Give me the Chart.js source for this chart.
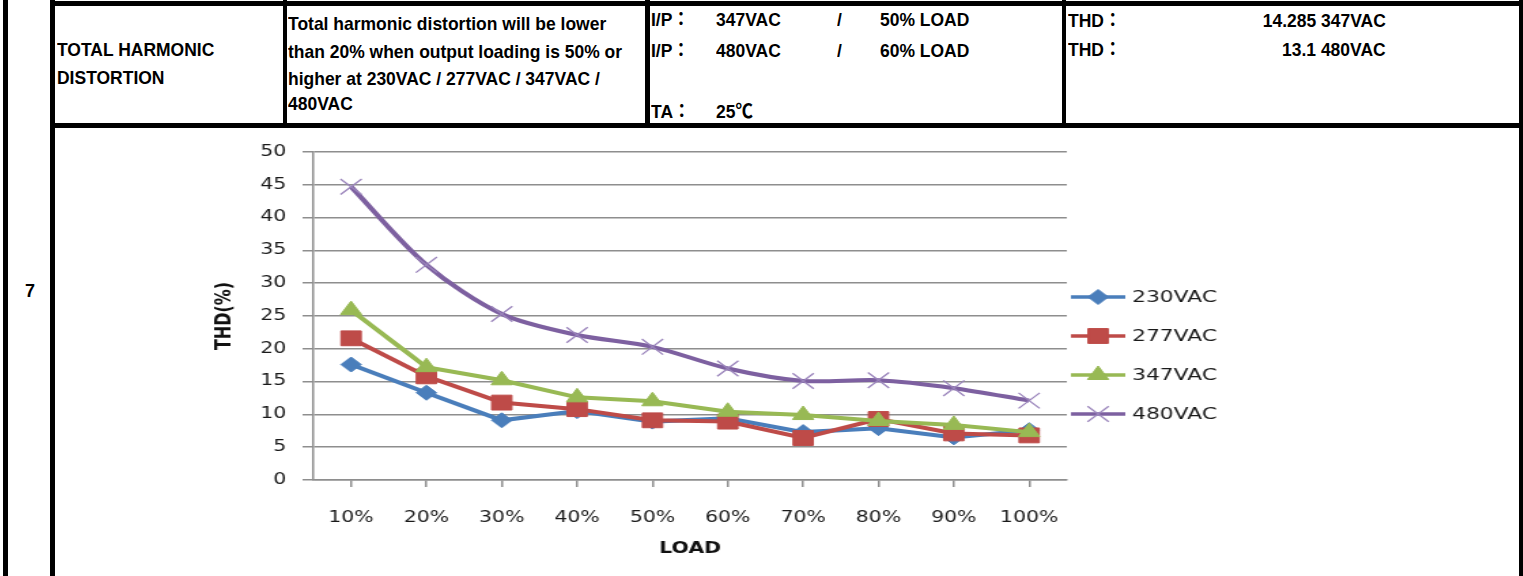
<!DOCTYPE html>
<html>
<head>
<meta charset="utf-8">
<script src="https://cdn.jsdelivr.net/npm/chart.js@4.4.1/dist/chart.umd.min.js"></script>
<style>
  html, body { margin:0; padding:0; background:#fff; }
  body { width:1523px; height:576px; position:relative; overflow:hidden; }
  .b { position:absolute; background:#000; z-index:5; }
  .t { position:absolute; font-family:'Liberation Sans', Arial, 'Noto Sans CJK JP', sans-serif; font-weight:bold;
       font-size:19px; line-height:22px; white-space:nowrap; color:#000; transform:scaleX(0.92); transform-origin:0 50%; z-index:6; }
  .r { transform-origin:100% 50%; text-align:right; }
  #wrap { position:absolute; left:55px; top:128px; width:1076px; height:448px; transform:scaleX(1.36); transform-origin:0 0; }
</style>
</head>
<body>
<!-- table borders -->
<div class="b" style="left:3px;top:0;width:5px;height:576px"></div>
<div class="b" style="left:50px;top:0;width:5px;height:576px"></div>
<div class="b" style="left:50px;top:1px;width:1473px;height:5px"></div>
<div class="b" style="left:50px;top:123px;width:1473px;height:5px"></div>
<div class="b" style="left:283px;top:0;width:4px;height:128px"></div>
<div class="b" style="left:645px;top:0;width:5px;height:128px"></div>
<div class="b" style="left:1062px;top:0;width:4px;height:128px"></div>
<div class="b" style="left:1519px;top:0;width:4px;height:576px"></div>

<div class="t" style="left:25px;top:280px;font-size:18px;transform:none">7</div>

<div class="t" style="left:57px;top:39px">TOTAL HARMONIC</div>
<div class="t" style="left:57px;top:67px">DISTORTION</div>

<div class="t" style="left:288px;top:13px">Total harmonic distortion will be lower</div>
<div class="t" style="left:288px;top:41px">than 20% when output loading is 50% or</div>
<div class="t" style="left:288px;top:68px">higher at 230VAC / 277VAC / 347VAC /</div>
<div class="t" style="left:288px;top:93px">480VAC</div>

<div class="t" style="left:651px;top:9px">I/P：</div>
<div class="t" style="left:716px;top:9px">347VAC</div>
<div class="t" style="left:837px;top:9px">/</div>
<div class="t" style="left:880px;top:9px">50% LOAD</div>
<div class="t" style="left:651px;top:40px">I/P：</div>
<div class="t" style="left:716px;top:40px">480VAC</div>
<div class="t" style="left:837px;top:40px">/</div>
<div class="t" style="left:880px;top:40px">60% LOAD</div>
<div class="t" style="left:651px;top:101px">TA：</div>
<div class="t" style="left:716px;top:101px">25℃</div>

<div class="t" style="left:1068px;top:10px">THD：</div>
<div class="t r" style="right:137px;top:10px">14.285 347VAC</div>
<div class="t" style="left:1068px;top:39px">THD：</div>
<div class="t r" style="right:137px;top:39px">13.1 480VAC</div>

<div id="wrap"><canvas id="c" width="1076" height="448"></canvas></div>

<script>
const categories = ['10%','20%','30%','40%','50%','60%','70%','80%','90%','100%'];
const seriesNames = ['230VAC','277VAC','347VAC','480VAC'];
const thd230 = [17.6, 13.3, 9.1, 10.5, 8.9, 9.4, 7.3, 7.9, 6.5, 7.6];
const thd277 = [21.6, 15.8, 11.8, 10.8, 9.1, 8.9, 6.4, 9.3, 7.1, 6.8];
const thd347 = [25.9, 17.2, 15.2, 12.6, 12.0, 10.4, 9.9, 9.0, 8.4, 7.3];
const thd480 = [44.7, 32.8, 25.3, 22.1, 20.3, 17.0, 15.1, 15.2, 14.0, 12.1];
const yMin = 0, yMax = 50, yStep = 5;

const gridCol = '#8e8e8e';
const tickFont = {family:'DejaVu Sans', size:15};

function ds(label, data, color, style, radius, order, extra) {
  return Object.assign({
    label, data, borderColor: color, backgroundColor: color,
    pointBackgroundColor: color, pointBorderColor: color,
    pointStyle: style, pointRadius: radius, pointHoverRadius: radius,
    borderWidth: 4, pointBorderWidth: 1, tension: 0, order
  }, extra || {});
}

const datasets = [
  ds(seriesNames[0], thd230, '#4a7ebb', 'rectRot', 7.5, 3),
  ds(seriesNames[1], thd277, '#be4b48', 'rect', 10.5, 2),
  ds(seriesNames[2], thd347, '#98b954', 'triangle', 9, 1),
  ds(seriesNames[3], thd480, '#7d60a0', 'crossRot', 11, 0, {pointBorderColor:'#9a84bb', pointBorderWidth:1.3, tension:0.3})
];

const legendPlugin = {
  id: 'excelLegend',
  afterDraw(chart) {
    const ctx = chart.ctx;
    const ys = [169, 208, 247, 286];
    const x0 = 747, x1 = 787, xm = 767, xt = 792;
    chart.data.datasets.forEach((d, i) => {
      const y = ys[i];
      ctx.save();
      ctx.strokeStyle = d.borderColor;
      ctx.lineWidth = 3.5;
      ctx.beginPath(); ctx.moveTo(x0, y); ctx.lineTo(x1, y); ctx.stroke();
      ctx.fillStyle = d.pointBackgroundColor;
      ctx.strokeStyle = d.pointBorderColor;
      ctx.lineWidth = d.pointBorderWidth;
      if (Chart.helpers && Chart.helpers.drawPoint) {
        Chart.helpers.drawPoint(ctx, {pointStyle: d.pointStyle, radius: d.pointRadius, rotation: 0, borderWidth: d.pointBorderWidth}, xm, y);
      }
      ctx.fillStyle = '#1a1a1a';
      ctx.font = '16px "DejaVu Sans"';
      ctx.textBaseline = 'middle';
      ctx.textAlign = 'left';
      ctx.fillText(d.label, xt, y + 1);
      ctx.restore();
    });
  }
};

new Chart(document.getElementById('c'), {
  type: 'line',
  data: { labels: categories, datasets },
  options: {
    responsive: false, animation: false, devicePixelRatio: 1,
    layout: { padding: { left: 100, right: 332, top: 24, bottom: 10 } },
    plugins: { legend: { display: false }, tooltip: { enabled: false } },
    scales: {
      x: {
        type: 'category', offset: true,
        grid: { display: true, drawOnChartArea: false, drawTicks: true, tickLength: 7, color: gridCol, lineWidth: 1.5 },
        border: { display: true, color: gridCol, width: 1.5 },
        ticks: { font: tickFont, color: '#1a1a1a', padding: 22, maxRotation: 0, autoSkip: false },
        title: { display: true, text: 'LOAD', color: '#111', font: {family:'DejaVu Sans', size:15, weight:'bold'}, padding: {top:0, bottom:8} },
        afterFit(s) { s.height = 86; }
      },
      y: {
        min: yMin, max: yMax,
        ticks: { stepSize: yStep, font: tickFont, color: '#1a1a1a', padding: 12 },
        grid: { color: gridCol, lineWidth: 1.5, tickLength: 8 },
        border: { display: true, color: gridCol, width: 1.5 },
        title: { display: true, text: 'THD(%)', color: '#111', font: {family:'DejaVu Sans', size:16, weight:'bold'}, padding: {top:15, bottom:0} },
        afterFit(s) { s.width = 90; }
      }
    }
  },
  plugins: [legendPlugin]
});
</script>
</body>
</html>
